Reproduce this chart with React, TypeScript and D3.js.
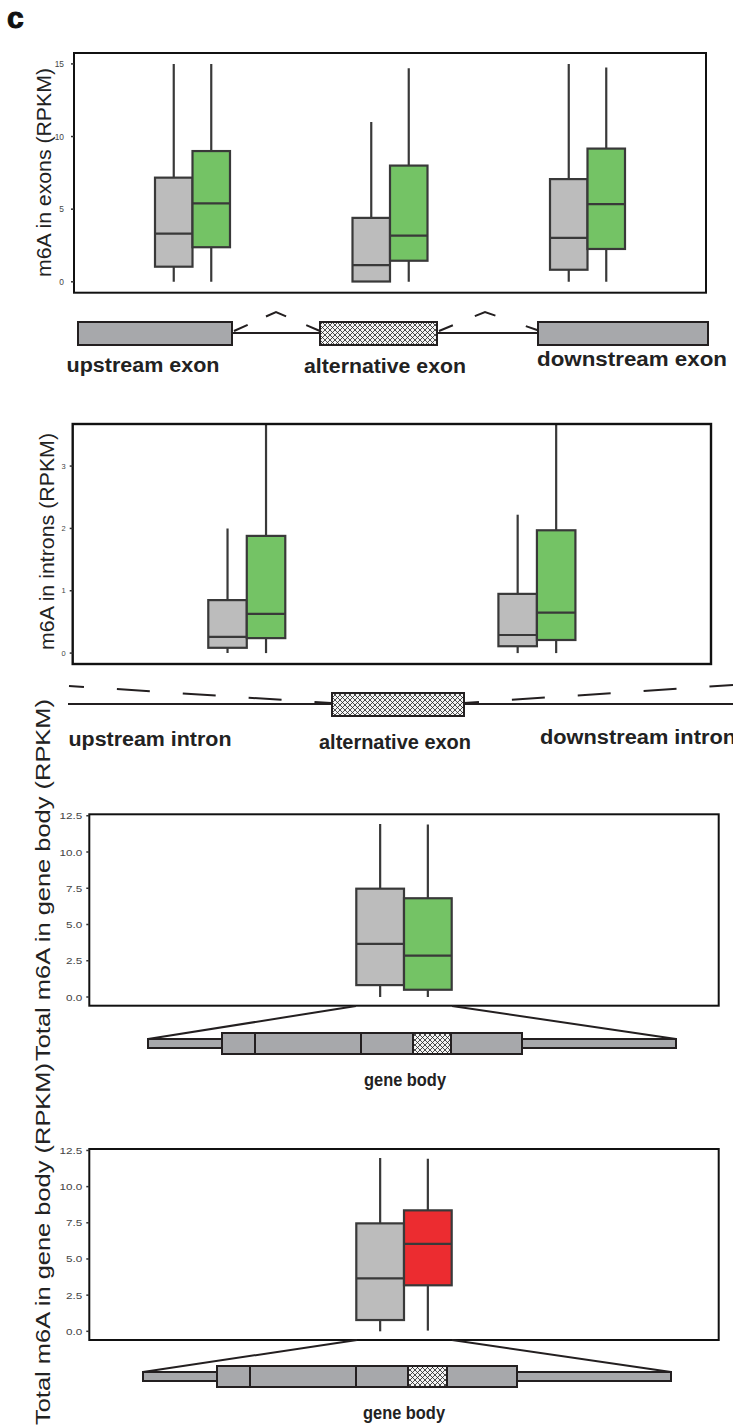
import React from 'react';
import * as d3 from 'd3';

// five-number summaries per box: [lower whisker, Q1, median, Q3, upper whisker]
const exonRegions = ['upstream exon', 'alternative exon', 'downstream exon'];
const exonCtrl = [[0, 1.04, 3.32, 7.17, 15], [0, 0.02, 1.15, 4.4, 11], [0, 0.83, 3.02, 7.07, 15]];
const exonTreat = [[0, 2.38, 5.4, 9.0, 15], [0, 1.45, 3.18, 8.0, 14.7], [0, 2.26, 5.35, 9.17, 14.75]];
const exonTicks = [0, 5, 10, 15];

const intronRegions = ['upstream intron', 'downstream intron'];
const intronCtrl = [[0, 0.085, 0.26, 0.85, 2.0], [0, 0.11, 0.29, 0.95, 2.22]];
const intronTreat = [[0, 0.24, 0.63, 1.88, 4.2], [0, 0.21, 0.65, 1.97, 4.2]];
const intronTicks = [0, 1, 2, 3];

const bodyRegion = ['gene body'];
const bodyCtrlA = [[0, 0.82, 3.67, 7.47, 11.93]];
const bodyTreatA = [[0, 0.5, 2.85, 6.81, 11.9]];
const bodyCtrlB = [[0, 0.78, 3.66, 7.46, 11.97]];
const bodyTreatB = [[0.05, 3.18, 6.04, 8.36, 11.93]];
const bodyTicks = [0, 2.5, 5, 7.5, 10, 12.5];

const grey = '#bcbcbc';
const green = '#74c365';
const red = '#ec2c30';
const boxStroke = '#393939';
const exonFill = '#a7a8ab';
const font = 'Liberation Sans, Arial, Helvetica, sans-serif';

function BoxPanel(p: any) {
  const x = d3.scalePoint<string>().domain(p.cats).range([p.x0, p.x1]).padding(0.6);
  const y = d3.scaleLinear().domain(p.domain).range([p.y1, p.y0]);
  const fmt = d3.format(p.fmt);
  return (
    <g>
      <defs>
        <clipPath id={p.id}>
          <rect x={p.x0} y={p.y0} width={p.x1 - p.x0} height={p.y1 - p.y0} />
        </clipPath>
      </defs>
      <g clipPath={`url(#${p.id})`}>
        {p.cats.map((c: string, i: number) =>
          p.series.map((s: any, j: number) => {
            const st = s.stats[i];
            const left = (x(c) as number) + (j - 1) * p.boxW;
            const cx = left + p.boxW / 2;
            return (
              <g key={c + j} stroke={boxStroke} strokeWidth={2.2}>
                <line x1={cx} x2={cx} y1={y(st[0])} y2={y(st[1])} />
                <line x1={cx} x2={cx} y1={y(st[3])} y2={y(st[4])} />
                <rect x={left} y={y(st[3])} width={p.boxW} height={y(st[1]) - y(st[3])} fill={s.fill} />
                <line x1={left} x2={left + p.boxW} y1={y(st[2])} y2={y(st[2])} />
              </g>
            );
          })
        )}
      </g>
      <rect x={p.x0} y={p.y0} width={p.x1 - p.x0} height={p.y1 - p.y0} fill="none" stroke="#111" strokeWidth={p.frameW || 2} />
      {p.ticks.map((t: number) => (
        <g key={t}>
          <line x1={p.x0 - 3} x2={p.x0} y1={y(t)} y2={y(t)} stroke="#333" strokeWidth={1.5} />
          <text
            transform={`translate(${p.x0 - p.gap},${y(t)}) scale(${p.stretch},1)`}
            textAnchor="end"
            dominantBaseline="central"
            fontSize={p.tickSize}
            fill="#444"
          >
            {fmt(t)}
          </text>
        </g>
      ))}
      <text
        transform={`translate(${p.titleX},${p.titleY}) rotate(-90)`}
        textAnchor="middle"
        dominantBaseline="central"
        fontSize={p.titleSize}
        textLength={p.titleLen}
        lengthAdjust="spacingAndGlyphs"
        fill="#222"
      >
        {p.title}
      </text>
    </g>
  );
}

function chevron(ax: number, ay: number, px: number, py: number, bx: number, by: number, d: number, e: number) {
  const l1 = Math.hypot(px - ax, py - ay);
  const l2 = Math.hypot(bx - px, by - py);
  return {
    d: `M${ax},${ay}L${px},${py}L${bx},${by}`,
    dash: `${e},${l1 - d - e},${2 * d},${l2 - d - e},${e}`,
  };
}

function Label(p: any) {
  return (
    <text
      x={p.x} y={p.y} textAnchor={p.anchor || 'middle'}
      textLength={p.len} lengthAdjust="spacingAndGlyphs"
      fontWeight="bold" fontSize={p.size || 20} fill="#222" stroke="none"
    >
      {p.children}
    </text>
  );
}

function GeneBody(p: any) {
  // p.xs: [thinStart, bigStart, div1, div2, hatchStart, hatchEnd, bigEnd, thinEnd]
  const [t0, b0, d1, d2, h0, h1, b1, t1] = p.xs;
  const yb = p.y, hb = 21, ht = 9;
  const yt = yb + (hb - ht) / 2;
  return (
    <g stroke="#231f20" strokeWidth={2}>
      <line x1={p.lx0} y1={p.ly} x2={t0} y2={yt} />
      <line x1={p.lx1} y1={p.ly} x2={t1} y2={yt} />
      <rect x={t0} y={yt} width={b0 - t0} height={ht} fill={exonFill} />
      <rect x={b1} y={yt} width={t1 - b1} height={ht} fill={exonFill} />
      <rect x={b0} y={yb} width={b1 - b0} height={hb} fill={exonFill} />
      <rect x={h0} y={yb} width={h1 - h0} height={hb} fill="url(#hatch)" />
      {[d1, d2, h0, h1].map((v, i) => (
        <line key={i} x1={v} x2={v} y1={yb} y2={yb + hb} />
      ))}
      <Label x={p.labelX} y={p.labelY} len={82} size={19}>gene body</Label>
    </g>
  );
}

export default function App() {
  const c1 = chevron(234, 331, 276, 312, 320, 331, 11, 15);
  const c2 = chevron(439, 331, 485, 312, 540, 331, 11, 15);
  return (
    <svg
      width={733}
      height={1427}
      style={{ position: 'absolute', left: 0, top: 0, background: '#fff' }}
      fontFamily={font}
    >
      <defs>
        <pattern id="hatch" width={5} height={5} patternUnits="userSpaceOnUse">
          <rect width={5} height={5} fill="#f4f4f4" />
          <path d="M0,0L5,5M5,0L0,5" stroke="#222" strokeWidth={0.8} />
        </pattern>
      </defs>
      <text x={7} y={27.5} fontSize={30} fontWeight={900} fill="#111" stroke="#111" strokeWidth={1}>c</text>

      <BoxPanel
        id="p1"
        x0={74} x1={706} y0={53} y1={292.7}
        domain={[-0.75, 15.75]} ticks={exonTicks} fmt="d"
        cats={exonRegions}
        series={[{ stats: exonCtrl, fill: grey }, { stats: exonTreat, fill: green }]}
        boxW={37.5} gap={10} stretch={1} tickSize={8.4}
        title="m6A in exons (RPKM)" titleX={43.3} titleY={172.5} titleLen={209} titleSize={21}
      />
      {/* exon schematic */}
      <g stroke="#231f20" strokeWidth={2}>
        <line x1={232} x2={320} y1={333} y2={333} />
        <line x1={437} x2={538} y1={333} y2={333} />
        <path d={c1.d} fill="none" strokeDasharray={c1.dash} />
        <path d={c2.d} fill="none" strokeDasharray={c2.dash} />
        <rect x={78} y={322} width={154} height={23} fill={exonFill} />
        <rect x={320} y={322} width={117} height={23} fill="url(#hatch)" />
        <rect x={538} y={322} width={170} height={23} fill={exonFill} />
      </g>
      <Label x={143} y={372} len={153}>upstream exon</Label>
      <Label x={385} y={373} len={162}>alternative exon</Label>
      <Label x={632} y={366} len={190}>downstream exon</Label>

      <BoxPanel
        id="p2"
        x0={72.7} x1={711} y0={424} y1={664}
        domain={[-0.175, 3.675]} ticks={intronTicks} fmt="d"
        cats={intronRegions}
        series={[{ stats: intronCtrl, fill: grey }, { stats: intronTreat, fill: green }]}
        boxW={38.5} gap={7} stretch={1} tickSize={7.5} frameW={2.4}
        title="m6A in introns (RPKM)" titleX={46.7} titleY={541.5} titleLen={217} titleSize={21}
      />
      {/* intron schematic */}
      <g stroke="#231f20" strokeWidth={2} fill="none">
        <line x1={68} x2={733} y1={704} y2={704} />
        <line x1={69} y1={686} x2={331} y2={703} strokeDasharray="33,33" strokeDashoffset={18} />
        <line x1={464} y1={703} x2={733} y2={685} strokeDasharray="33,33" strokeDashoffset={18} />
        <rect x={332} y={693} width={132} height={23} fill="url(#hatch)" />
      </g>
      <Label x={150} y={746} len={163}>upstream intron</Label>
      <Label x={395} y={749} len={152}>alternative exon</Label>
      <Label x={540} y={744} len={196} anchor="start">downstream intron</Label>

      <BoxPanel
        id="p3"
        x0={89.3} x1={718.7} y0={814.3} y1={1005.7}
        domain={[-0.6, 12.6]} ticks={bodyTicks} fmt=".1f"
        cats={bodyRegion}
        series={[{ stats: bodyCtrlA, fill: grey }, { stats: bodyTreatA, fill: green }]}
        boxW={47.7} gap={7} stretch={1.26} tickSize={9.3}
        title="Total m6A in gene body (RPKM)" titleX={43} titleY={880} titleLen={362} titleSize={20}
      />
      <GeneBody
        xs={[148, 222, 255, 361, 413, 451, 522, 676]}
        y={1033} lx0={356} lx1={452} ly={1006} labelX={405} labelY={1086}
      />

      <BoxPanel
        id="p4"
        x0={89.3} x1={718.7} y0={1149} y1={1340}
        domain={[-0.6, 12.6]} ticks={bodyTicks} fmt=".1f"
        cats={bodyRegion}
        series={[{ stats: bodyCtrlB, fill: grey }, { stats: bodyTreatB, fill: red }]}
        boxW={47.7} gap={7} stretch={1.26} tickSize={9.3}
        title="Total m6A in gene body (RPKM)" titleX={43} titleY={1244} titleLen={362} titleSize={20}
      />
      <GeneBody
        xs={[143, 217, 250, 356, 408, 447, 517, 671]}
        y={1366} lx0={357} lx1={452} ly={1340} labelX={404} labelY={1419}
      />
    </svg>
  );
}
